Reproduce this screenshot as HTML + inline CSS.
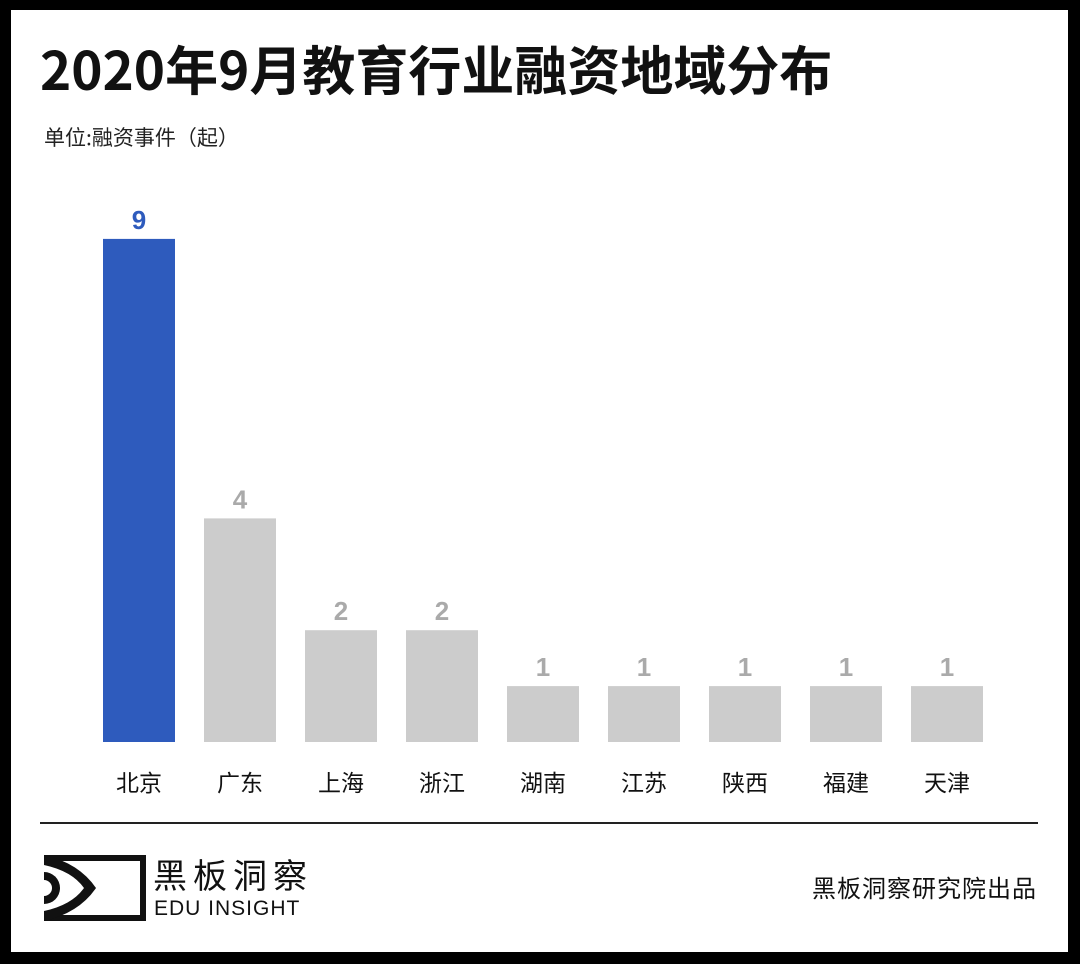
<!DOCTYPE html>
<html><head><meta charset="utf-8"><style>
html,body{margin:0;padding:0;background:#fff}
body{width:1080px;height:964px;position:relative;overflow:hidden;font-family:"Noto Sans CJK SC","Liberation Sans",sans-serif}
.frame{position:absolute;left:0;top:0;width:1080px;height:964px;box-sizing:border-box;border-style:solid;border-color:#000;border-width:10px 12px 12px 11px}
.t{position:absolute;white-space:nowrap}
</style></head><body>
<div class="frame"></div>
<div class="t" style="left:40px;top:32px;font-size:53px;font-weight:bold;color:#111;line-height:72px">2020年9月教育行业融资地域分布</div>
<div class="t" style="left:44px;top:122px;font-size:21px;color:#222;line-height:30px">单位:融资事件（起）</div>
<svg id="chart" width="1080" height="964" style="position:absolute;left:0;top:0"></svg>
<div style="position:absolute;left:40px;top:822px;width:998px;height:2px;background:#222"></div>
<svg width="102" height="66" style="position:absolute;left:44px;top:855px" viewBox="0 0 102 66">
<rect x="3" y="3" width="96" height="60" fill="none" stroke="#111" stroke-width="6"/>
<path d="M0 0 Q35 8 52 33 Q35 58 0 66 Z" fill="#111"/>
<path d="M0 10 Q28 16 40 33 Q28 50 0 56 Z" fill="#fff"/>
<path d="M0 17 A16 16 0 0 1 0 49 Z" fill="#111"/>
<path d="M0 25 A8 8 0 0 1 0 41 Z" fill="#fff"/>
</svg>
<div class="t" style="left:153px;top:850px;font-size:34px;color:#111;letter-spacing:6px;line-height:48px">黑板洞察</div>
<div class="t" style="left:154px;top:895px;font-size:21px;color:#111;letter-spacing:1px;line-height:28px;font-family:'Liberation Sans',sans-serif">EDU INSIGHT</div>
<div class="t" style="left:812px;top:870px;font-size:24px;color:#111;line-height:34px;letter-spacing:1px">黑板洞察研究院出品</div>
<script>
const categories=["北京","广东","上海","浙江","湖南","江苏","陕西","福建","天津"];
const values=[9,4,2,2,1,1,1,1,1];
const svg=document.getElementById('chart');
const NS='http://www.w3.org/2000/svg';
const base=742,unit=55.9,x0=103,step=101,bw=72;
const y=v=>base-v*unit;
const x=i=>x0+i*step;
categories.forEach((c,i)=>{
  const v=values[i];
  const col=i===0?'#2e5bbd':'#cccccc';
  const r=document.createElementNS(NS,'rect');
  r.setAttribute('x',x(i));r.setAttribute('y',y(v));r.setAttribute('width',bw);r.setAttribute('height',base-y(v));r.setAttribute('fill',col);
  
  
  svg.appendChild(r);
  const t=document.createElementNS(NS,'text');
  t.setAttribute('x',x(i)+bw/2);t.setAttribute('y',y(v)-10);t.setAttribute('text-anchor','middle');
  t.setAttribute('font-size','26');t.setAttribute('font-weight','bold');t.setAttribute('fill',i===0?'#2e5bbd':'#aaaaaa');
  t.setAttribute('font-family','"Liberation Sans",sans-serif');
  t.textContent=v;
  
  
  svg.appendChild(t);
  const l=document.createElementNS(NS,'text');
  l.setAttribute('x',x(i)+bw/2);l.setAttribute('y',791);l.setAttribute('text-anchor','middle');
  l.setAttribute('font-size','23');l.setAttribute('fill','#111');
  l.setAttribute('font-family','"Noto Sans CJK SC",sans-serif');
  l.textContent=c;
  
  
  svg.appendChild(l);
});
</script>
</body></html>
